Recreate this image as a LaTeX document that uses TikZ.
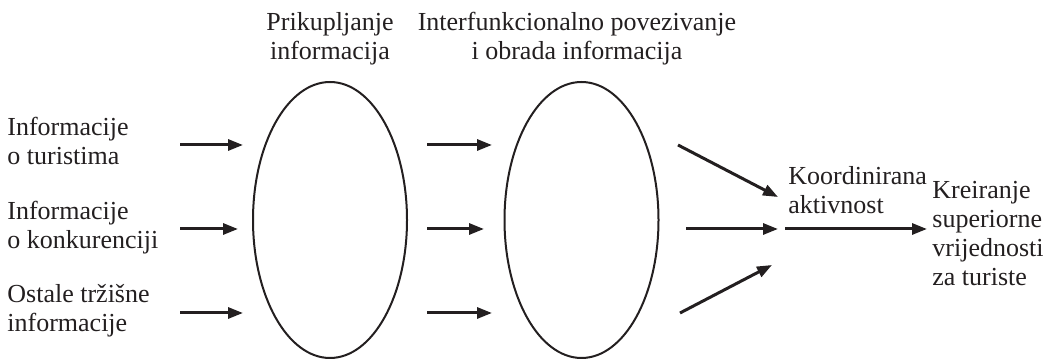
\documentclass[tikz,border=0pt]{standalone}
\usepackage{fontspec}
\setmainfont{Liberation Serif}
\usetikzlibrary{arrows.meta,shapes.geometric}
\definecolor{ink}{HTML}{231F20}
\begin{document}
\begin{tikzpicture}[x=0.5pt,y=-0.5pt,
  txt/.style={inner sep=0pt,text=ink,font=\fontsize{13}{14.5}\selectfont},
  oval/.style={draw=ink,line width=1pt,ellipse,inner sep=0pt,minimum width=77pt,minimum height=138pt},
  arr/.style={draw=ink,line width=1.5pt,-{Triangle[length=7.5pt,width=5.5pt]}}]
\useasboundingbox (0,0) rectangle (1060,362);
% ellipses
\node[oval] (e1) at (330,220) {};
\node[oval] (e2) at (581.5,220) {};
% labels (anchor = baseline of the last line)
\node[txt,anchor=base west,align=left] (l1) at (7,165) {Informacije\\o turistima};
\node[txt,anchor=base west,align=left] (l2) at (7,249) {Informacije\\o konkurenciji};
\node[txt,anchor=base west,align=left] (l3) at (7,332) {Ostale tržišne\\informacije};
\node[txt,anchor=base,align=center] (t1) at (330,60) {Prikupljanje\\informacija};
\node[txt,anchor=base,align=center] (t2) at (577,60) {Interfunkcionalno povezivanje\\i obrada informacija};
\node[txt,anchor=base west,align=left] (k) at (788,214) {Koordinirana\\aktivnost};
\node[txt,anchor=base west,align=left] (r) at (932,286) {Kreiranje\\superiorne\\vrijednosti\\za turiste};
% arrow end points
\coordinate (a1s) at (180,145); \coordinate (a1e) at (243,145);
\coordinate (a2s) at (180,229); \coordinate (a2e) at (238,229);
\coordinate (a3s) at (180,313); \coordinate (a3e) at (243,313);
\coordinate (b1s) at (427,145); \coordinate (b1e) at (492,145);
\coordinate (b2s) at (427,229); \coordinate (b2e) at (484,229);
\coordinate (b3s) at (427,313); \coordinate (b3e) at (492,313);
\coordinate (c1s) at (678,145); \coordinate (c1e) at (778,197);
\coordinate (c2s) at (686,229); \coordinate (c2e) at (778,229);
\coordinate (c3s) at (680,313); \coordinate (c3e) at (772,265);
\coordinate (ds) at (785,229); \coordinate (de) at (927,229);
\draw[arr] (a1s) -- (a1e);
\draw[arr] (a2s) -- (a2e);
\draw[arr] (a3s) -- (a3e);
\draw[arr] (b1s) -- (b1e);
\draw[arr] (b2s) -- (b2e);
\draw[arr] (b3s) -- (b3e);
\draw[arr] (c1s) -- (c1e);
\draw[arr] (c2s) -- (c2e);
\draw[arr] (c3s) -- (c3e);
\draw[arr] (ds) -- (de);
\end{tikzpicture}
\end{document}
